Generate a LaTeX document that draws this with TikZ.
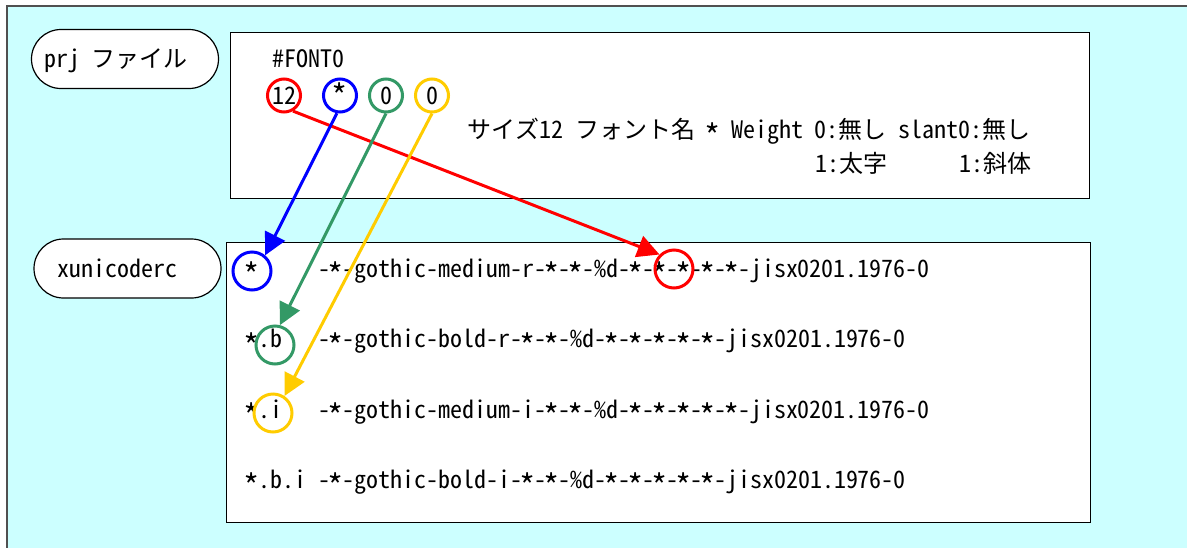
\documentclass[tikz,border=0pt]{standalone}
\usepackage{fontspec}
\setmainfont{Noto Sans CJK JP}[RawFeature=+hwid]
\usetikzlibrary{arrows.meta,shapes.misc}
\definecolor{bgcyan}{HTML}{CCFFFF}
\definecolor{framegray}{HTML}{505050}
\definecolor{ared}{HTML}{FF0000}
\definecolor{ablue}{HTML}{0000FF}
\definecolor{agreen}{HTML}{339966}
\definecolor{ayellow}{HTML}{FFCC00}
\newcommand\midstar{\raisebox{-0.44em}{\scalebox{1.35}{*}}}
\ExplSyntaxOn
\NewDocumentCommand\mono{m}{\tl_map_inline:nn {#1}
  {\str_if_eq:nnTF {##1} {*} {\makebox[12pt]{\midstar}} {\makebox[12pt]{##1}}}}
\NewDocumentCommand\monow{m}{\tl_map_inline:nn {#1} {\makebox[24pt]{##1}}}
\ExplSyntaxOff
\begin{document}
\begin{tikzpicture}[x=1pt,y=-1pt,
  font=\fontsize{24pt}{28pt}\selectfont,
  box/.style={draw=black, line width=1.3pt, fill=white, anchor=north west, inner sep=0pt},
  pill/.style={rounded rectangle, draw=black, line width=1.2pt, fill=white,
    minimum width=187pt, minimum height=59pt, inner sep=0pt},
  txt/.style={anchor=base west, inner sep=0pt, outer sep=0pt},
  ring/.style={circle, draw=#1, line width=3pt, inner sep=0pt},
  arr/.style={draw=#1, line width=3pt, -{Triangle[length=22pt,width=22pt]}},
]
\useasboundingbox (0,0) rectangle (1187,547);
% background frame
\fill[bgcyan] (7,6) rectangle (1200,560);
\draw[framegray, line width=2pt] (7,560) -- (7,6) -- (1200,6);

% pills
\node[pill] (prj) at (125,59) {};
\node[txt] (prjtxt) at (44,67) {\mono{prj~}\monow{ファイル}};
\node[pill] (xuc) at (127.5,268.5) {};
\node[txt] (xuctxt) at (57,277) {\mono{xunicoderc}};

% boxes
\node[box, minimum width=859pt, minimum height=166pt] (top) at (230,32) {};
\node[box, minimum width=864pt, minimum height=280pt] (bot) at (226,242) {};

% top box texts
\node[txt] (font0) at (272,67) {\mono{\#FONT0}};
\node[txt] (desc1) at (467,138) {\monow{サイズ}\mono{12~}\monow{フォント名}\mono{~*~Weight~0:}\monow{無し}\mono{~slant0:}\monow{無し}};
\node[txt] (desc2) at (815,172) {\mono{1:}\monow{太字}\mono{~~~~~~1:}\monow{斜体}};

% bottom box texts
\node[txt] (l1) at (246,277) {\mono{*~~~~~-*-gothic-medium-r-*-*-\%d-*-*-*-*-*-jisx0201.1976-0}};
\node[txt] (l2) at (246,347.5) {\mono{*.b~~~-*-gothic-bold-r-*-*-\%d-*-*-*-*-*-jisx0201.1976-0}};
\node[txt] (l3) at (246,418) {\mono{*.i~~~-*-gothic-medium-i-*-*-\%d-*-*-*-*-*-jisx0201.1976-0}};
\node[txt] (l4) at (246,488) {\mono{*.b.i~-*-gothic-bold-i-*-*-\%d-*-*-*-*-*-jisx0201.1976-0}};

% top circles
\node[ring=ared, minimum size=33pt] (r1) at (284,95.5) {\mono{12}};
\node[ring=ablue, minimum size=33pt] (b1) at (340,95.5) {\mono{*}};
\node[ring=agreen, minimum size=33pt] (g1) at (386,95.5) {\mono{0}};
\node[ring=ayellow, minimum size=33pt] (y1) at (432,95.5) {\mono{0}};

% bottom circles
\node[ring=ablue, minimum size=38pt] (b2) at (252,271) {};
\node[ring=agreen, minimum size=38pt] (g2) at (275,345) {};
\node[ring=ayellow, minimum size=38pt] (y2) at (273,413) {};
\node[ring=ared, minimum size=38pt] (r2) at (674,269) {};

% arrows
\draw[arr=ared] (r1.-60) -- (r2.135);
\draw[arr=ablue] (b1.-100) -- (b2.50);
\draw[arr=agreen] (g1.-90) -- (g2.76);
\draw[arr=ayellow] (y1.-90) -- (y2.56);
\end{tikzpicture}
\end{document}
